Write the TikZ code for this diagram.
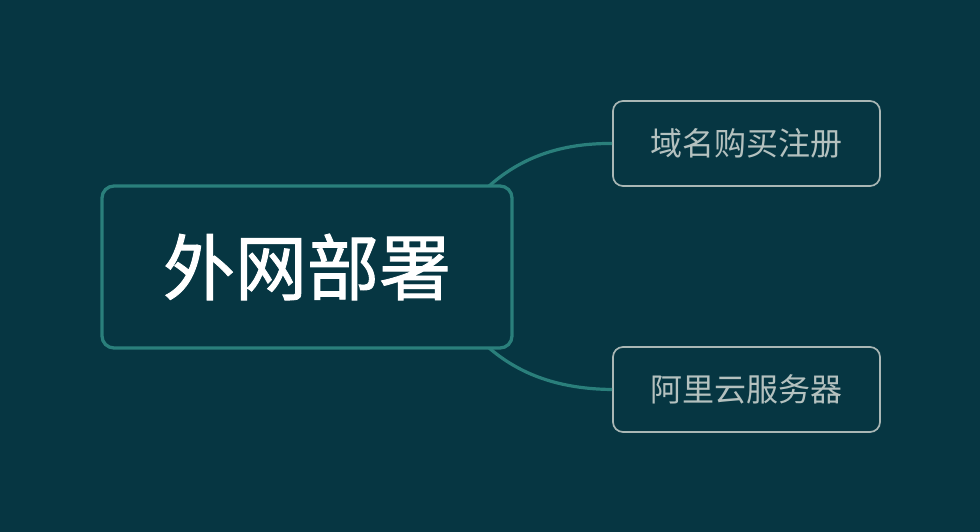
\documentclass[tikz,border=0pt]{standalone}
\usepackage{fontspec}
\setmainfont{Noto Sans CJK SC}
\newfontfamily\boldcjk[FakeBold=1.2]{Noto Sans CJK SC}
\definecolor{bg}{HTML}{063642}
\definecolor{teal}{HTML}{2A7F7B}
\definecolor{subline}{HTML}{A9B7B5}
\definecolor{subtext}{HTML}{B4C1BF}
\begin{document}
\begin{tikzpicture}[x=1pt,y=-1pt,
  mainbox/.style={draw=teal,line width=3.3pt,rounded corners=12pt,fill=bg,text=white,
     minimum width=410pt,minimum height=162pt,inner sep=0pt,font=\boldcjk\fontsize{72}{76}\selectfont},
  subbox/.style={draw=subline,line width=1.7pt,rounded corners=10pt,fill=bg,text=subtext,
     minimum width=267pt,minimum height=85pt,inner sep=0pt,font=\fontsize{32}{36}\selectfont},
  link/.style={draw=teal,line width=3.2pt}]
\fill[bg] (0,0) rectangle (980,532);
\useasboundingbox (0,0) rectangle (980,532);
\coordinate (s1) at (488,187);
\coordinate (s2) at (488,347);
\node[subbox] (a) at (746.5,143.5) {域名购买注册};
\node[subbox] (b) at (746.5,389.5) {阿里云服务器};
\draw[link] (s1) .. controls (520,158) and (560,143) .. (a.west);
\draw[link] (s2) .. controls (520,375) and (560,389) .. (b.west);
\node[mainbox] (m) at (307,267) {外网部署};
\end{tikzpicture}
\end{document}
